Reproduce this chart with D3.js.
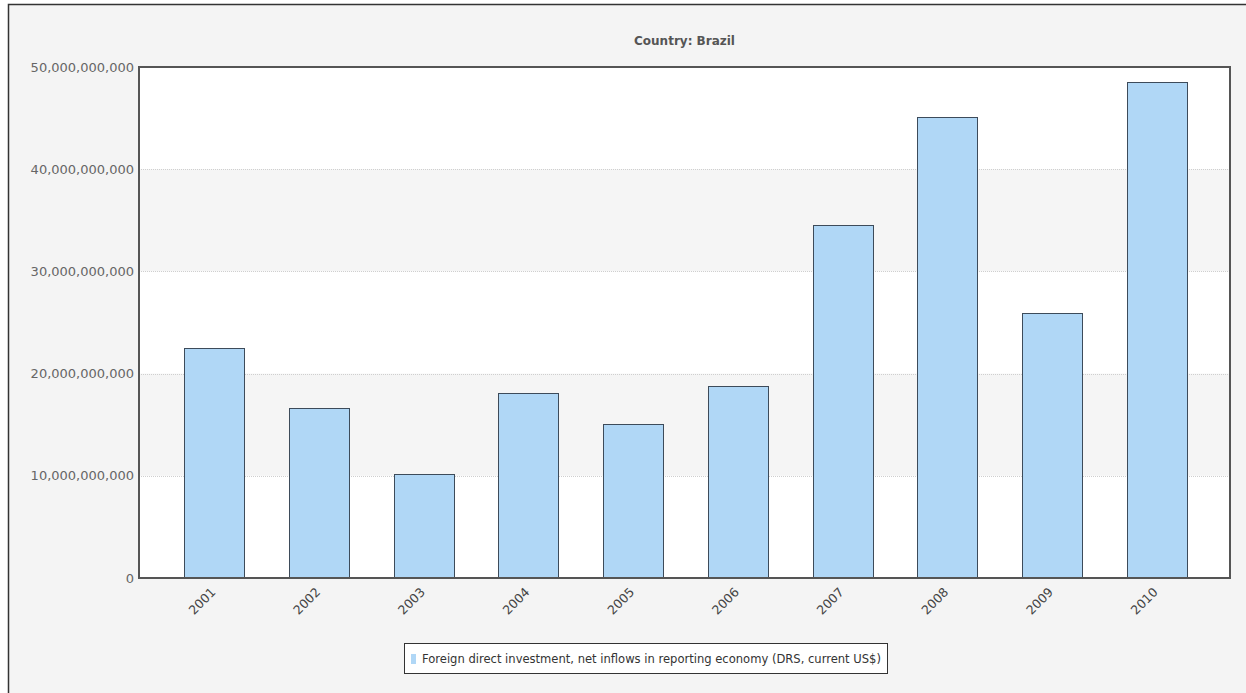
<!DOCTYPE html>
<html><head><meta charset="utf-8">
<script src="https://cdn.jsdelivr.net/npm/d3@7"></script>
<style>
html,body{margin:0;padding:0;background:#fff;}
svg{display:block;}
</style></head>
<body>
<script>
const categories = ["2001","2002","2003","2004","2005","2006","2007","2008","2009","2010"];
const values = [22.46e9, 16.59e9, 10.14e9, 18.15e9, 15.07e9, 18.82e9, 34.58e9, 45.06e9, 25.95e9, 48.5e9];
const yTicks = [0, 10e9, 20e9, 30e9, 40e9, 50e9];
const title = "Country: Brazil";
const seriesName = "Foreign direct investment, net inflows in reporting economy (DRS, current US$)";

const W = 1246, H = 693;
const plot = {left: 139, top: 67, right: 1230, bottom: 578};
const FONT = "'DejaVu Sans', Verdana, sans-serif";
const svg = d3.select("body").append("svg").attr("width", W).attr("height", H);

// outer panel
svg.append("rect").attr("x", 8).attr("y", 4).attr("width", W - 8).attr("height", H - 4).attr("fill", "#f4f4f4");
svg.append("path").attr("d", `M8.5,${H} V4.5 H${W}`).attr("fill", "none").attr("stroke", "#333").attr("stroke-width", 1.5);

const y = d3.scaleLinear().domain([0, 50e9]).range([plot.bottom, plot.top]);
const x = d3.scaleBand().domain(categories).range([162, 1209]).paddingInner(0.427).paddingOuter(0.214);

// plot background bands
svg.append("rect").attr("x", plot.left).attr("y", plot.top).attr("width", plot.right - plot.left).attr("height", plot.bottom - plot.top).attr("fill", "#fff");
for (let i = 0; i < yTicks.length - 1; i++) {
  if (i % 2 === 1) {
    svg.append("rect").attr("x", plot.left).attr("width", plot.right - plot.left)
      .attr("y", y(yTicks[i + 1])).attr("height", y(yTicks[i]) - y(yTicks[i + 1])).attr("fill", "#f5f5f5");
  }
}
// gridlines
svg.append("g").selectAll("line").data(yTicks.slice(1, -1)).join("line")
  .attr("x1", plot.left).attr("x2", plot.right)
  .attr("y1", d => Math.round(y(d)) + 0.5).attr("y2", d => Math.round(y(d)) + 0.5)
  .attr("stroke", "#cfcfcf").attr("stroke-width", 1).attr("stroke-dasharray", "1,1");

// bars
const bandW = 60;
svg.append("g").selectAll("rect").data(values).join("rect")
  .attr("x", (d, i) => Math.round(x(categories[i]) + x.bandwidth() / 2 - bandW / 2) + 0.5)
  .attr("y", d => Math.round(y(d)) + 0.5)
  .attr("width", bandW)
  .attr("height", d => Math.round(y(0)) - Math.round(y(d)))
  .attr("fill", "#b0d7f6").attr("stroke", "#3d4b5a").attr("stroke-width", 1);

// plot frame
svg.append("rect").attr("x", plot.left).attr("y", plot.top).attr("width", plot.right - plot.left).attr("height", plot.bottom - plot.top)
  .attr("fill", "none").attr("stroke", "#555").attr("stroke-width", 2);

// y axis labels
const fmt = d3.format(",");
svg.append("g").selectAll("text").data(yTicks).join("text")
  .attr("x", plot.left - 5).attr("y", d => y(d)).attr("dy", "0.35em")
  .attr("text-anchor", "end").attr("fill", "#666")
  .style("font-family", FONT).style("font-size", "13px")
  .text(d => fmt(d));

// x axis labels
svg.append("g").selectAll("text").data(categories).join("text")
  .attr("transform", d => `translate(${x(d) + x.bandwidth() / 2 + 2},${plot.bottom + 15}) rotate(-45)`)
  .attr("text-anchor", "end").attr("fill", "#444")
  .style("font-family", FONT).style("font-size", "12.5px")
  .text(d => d);

// title
svg.append("text").attr("x", (plot.left + plot.right) / 2).attr("y", 45)
  .attr("text-anchor", "middle").attr("fill", "#555").style("font-weight", "bold")
  .style("font-family", FONT).style("font-size", "12px")
  .text(title);

// legend
const lg = svg.append("g");
lg.append("rect").attr("x", 404.5).attr("y", 643.5).attr("width", 483).attr("height", 30)
  .attr("fill", "#fff").attr("stroke", "#333").attr("stroke-width", 1);
lg.append("rect").attr("x", 411).attr("y", 654).attr("width", 5).attr("height", 10).attr("fill", "#b0d7f6");
const lt = lg.append("text").attr("x", 422).attr("y", 659).attr("dy", "0.35em").attr("fill", "#333")
  .style("font-family", FONT).style("font-size", "12px")
  .text(seriesName);
const len = lt.node().getComputedTextLength();
const target = 459;
lt.style("font-size", (12 * target / len).toFixed(2) + "px");
</script>
</body></html>
